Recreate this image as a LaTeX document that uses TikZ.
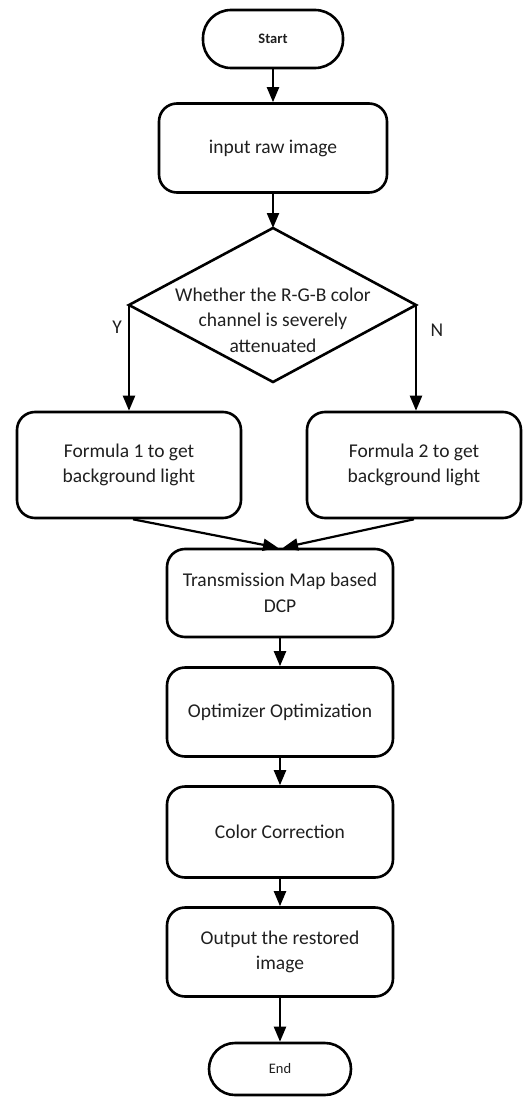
\documentclass[tikz,border=0pt]{standalone}
\usepackage{fontspec}
\setmainfont{Carlito}
\usetikzlibrary{arrows.meta}
\begin{document}
\begin{tikzpicture}[x=1pt,y=-1pt,
  every node/.style={font=\fontsize{19.5}{25.5}\selectfont, text=black!88},
  box/.style={draw, line width=2.6pt, rounded corners=18pt, align=center, inner sep=0pt},
  term/.style={draw, line width=2.6pt, align=center, inner sep=0pt},
  arr/.style={line width=2.2pt, -{Triangle[length=15pt,width=12pt]}},
  lab/.style={inner sep=0pt},
]
\useasboundingbox (0,0) rectangle (522,1097);

\node[term, rounded corners=28pt, minimum width=140pt, minimum height=58pt,
      font=\fontsize{14.5}{17}\selectfont\bfseries] (start) at (273,39) {Start};
\node[box, minimum width=228pt, minimum height=89pt] (inp) at (273,148) {input raw image};

% diamond
\coordinate (dt) at (273,228);
\coordinate (dl) at (129,305);
\coordinate (dr) at (416,305);
\coordinate (db) at (273,382);
\draw[line width=2.6pt, line join=miter] (dt) -- (dr) -- (db) -- (dl) -- cycle;
\node[lab, align=center] (dtext) at (273,320) {Whether the R-G-B color\\channel is severely\\attenuated};

\node[box, minimum width=224pt, minimum height=106pt] (f1) at (129,465) {Formula 1 to get\\background light};
\node[box, minimum width=214pt, minimum height=106pt] (f2) at (414,465) {Formula 2 to get\\background light};

\node[lab] (y) at (117,327) {Y};
\node[lab] (n) at (437,330) {N};

\node[box, minimum width=226pt, minimum height=88pt] (tm) at (280,593) {Transmission Map based\\DCP};
\node[box, minimum width=226pt, minimum height=89pt] (opt) at (280,712) {Optimizer Optimization};
\node[box, minimum width=226pt, minimum height=91pt] (cc) at (280,832) {Color Correction};
\node[box, minimum width=226pt, minimum height=89pt] (out) at (280,952) {Output the restored\\image};
\node[term, rounded corners=26pt, minimum width=142pt, minimum height=52pt,
      font=\fontsize{14.5}{17}\selectfont] (end) at (280,1069) {End};

\draw[arr] (start) -- (inp);
\draw[arr] (inp) -- (dt);
\draw[arr] (dl) -- (dl |- f1.north);
\draw[arr] (dr) -- (dr |- f2.north);
\draw[arr] ([xshift=4pt]f1.south) -- ([xshift=-2pt]tm.north);
\draw[arr] (f2.south) -- ([xshift=3pt]tm.north);
\draw[arr] (tm) -- (opt);
\draw[arr] (opt) -- (cc);
\draw[arr] (cc) -- (out);
\draw[arr] (out) -- (end);
\end{tikzpicture}
\end{document}
